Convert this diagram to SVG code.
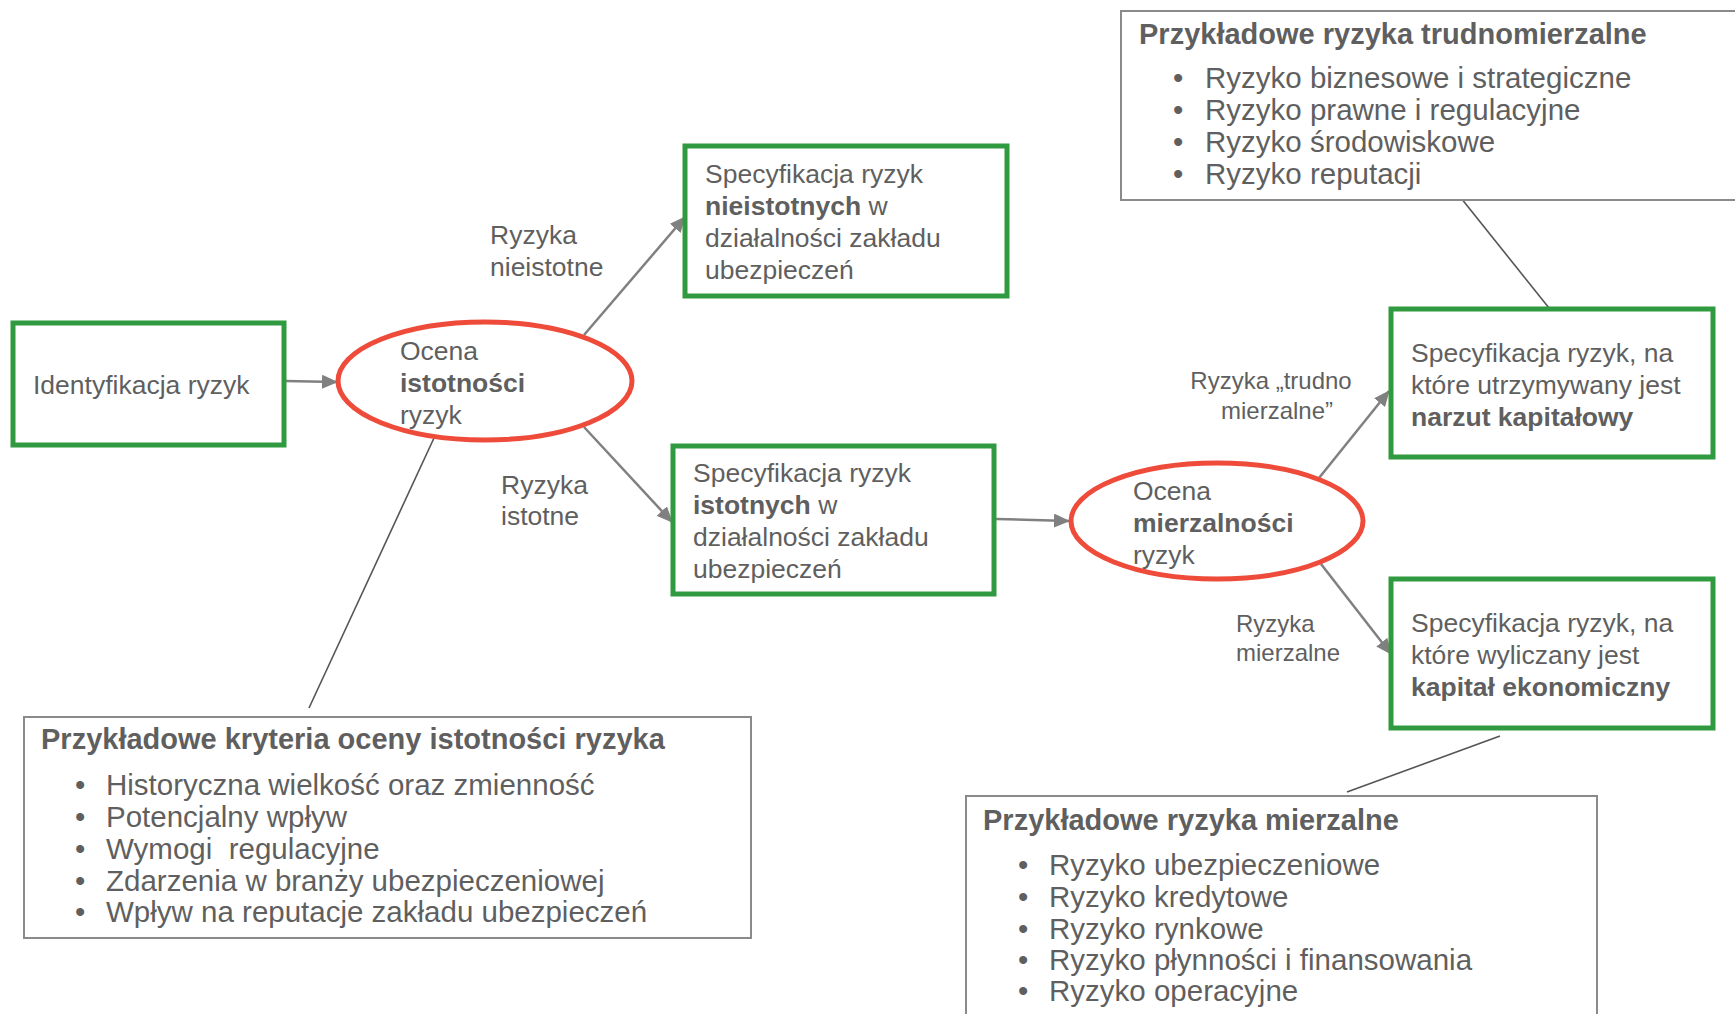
<svg xmlns="http://www.w3.org/2000/svg" width="1735" height="1014" viewBox="0 0 1735 1014">
<defs>
<style>
text{font-family:"Liberation Sans",Arial,sans-serif;fill:#5f5f5f;white-space:pre;}
.t{font-size:26.5px;}
.b{font-weight:bold;}
.lbl{font-size:24px;}
.bl{font-size:29.5px;}
.ttl{font-size:29px;font-weight:bold;}
.g{fill:#fff;stroke:#2f9a3f;stroke-width:5;}
.e{fill:#fff;stroke:#ee4b3b;stroke-width:5;}
.gr{fill:#fff;stroke:#8a8a8a;stroke-width:2;}
.arr{stroke:#808080;stroke-width:2.5;fill:none;marker-end:url(#ah);}
.ln{stroke:#555;stroke-width:1.6;fill:none;}
</style>
<marker id="ah" markerUnits="userSpaceOnUse" markerWidth="16" markerHeight="14" refX="15" refY="7" orient="auto">
<path d="M0,0 L16,7 L0,14 Z" fill="#808080"/>
</marker>
</defs>
<rect width="1735" height="1014" fill="#fff"/>

<g id="connectors">
<line class="arr" x1="285" y1="381" x2="337" y2="382"/>
<line class="arr" x1="584" y1="335" x2="685" y2="217"/>
<line class="arr" x1="584" y1="427" x2="672" y2="522"/>
<line class="arr" x1="996" y1="519" x2="1069" y2="521"/>
<line class="arr" x1="1319" y1="478" x2="1389" y2="391"/>
<line class="arr" x1="1321" y1="564" x2="1391" y2="654"/>
<line class="ln" x1="434" y1="438" x2="309" y2="708"/>
<line class="ln" x1="1461" y1="198" x2="1549" y2="308"/>
<line class="ln" x1="1500" y1="736" x2="1347" y2="792"/>
</g>

<g id="labels">
<text class="t" x="490" y="244">Ryzyka</text>
<text class="t" x="490" y="276">nieistotne</text>
<text class="t" x="501" y="494">Ryzyka</text>
<text class="t" x="501" y="525">istotne</text>
<text class="lbl" x="1271" y="389" text-anchor="middle">Ryzyka „trudno</text>
<text class="lbl" x="1277" y="419" text-anchor="middle">mierzalne”</text>
<text class="lbl" x="1236" y="632">Ryzyka</text>
<text class="lbl" x="1236" y="661">mierzalne</text>
</g>

<g id="identyfikacja">
<rect class="g" x="13" y="323" width="271" height="122"/>
<text class="t" x="33" y="394">Identyfikacja ryzyk</text>
</g>

<g id="ocena-istotnosci">
<ellipse class="e" cx="485" cy="381" rx="147" ry="59"/>
<text class="t" x="400" y="360">Ocena</text>
<text class="t b" x="400" y="392">istotności</text>
<text class="t" x="400" y="424">ryzyk</text>
</g>

<g id="nieistotne">
<rect class="g" x="685" y="146" width="322" height="150"/>
<text class="t" x="705" y="183">Specyfikacja ryzyk</text>
<text class="t" x="705" y="215"><tspan class="b">nieistotnych</tspan> w</text>
<text class="t" x="705" y="247">działalności zakładu</text>
<text class="t" x="705" y="279">ubezpieczeń</text>
</g>

<g id="istotne">
<rect class="g" x="673" y="446" width="321" height="148"/>
<text class="t" x="693" y="482">Specyfikacja ryzyk</text>
<text class="t" x="693" y="514"><tspan class="b">istotnych</tspan> w</text>
<text class="t" x="693" y="546">działalności zakładu</text>
<text class="t" x="693" y="578">ubezpieczeń</text>
</g>

<g id="ocena-mierzalnosci">
<ellipse class="e" cx="1217" cy="521" rx="146" ry="58"/>
<text class="t" x="1133" y="500">Ocena</text>
<text class="t b" x="1133" y="532">mierzalności</text>
<text class="t" x="1133" y="564">ryzyk</text>
</g>

<g id="narzut">
<rect class="g" x="1391" y="309" width="322" height="148"/>
<text class="t" x="1411" y="362">Specyfikacja ryzyk, na</text>
<text class="t" x="1411" y="394">które utrzymywany jest</text>
<text class="t b" x="1411" y="426">narzut kapitałowy</text>
</g>

<g id="kapital">
<rect class="g" x="1391" y="579" width="322" height="149"/>
<text class="t" x="1411" y="632">Specyfikacja ryzyk, na</text>
<text class="t" x="1411" y="664">które wyliczany jest</text>
<text class="t b" x="1411" y="696">kapitał ekonomiczny</text>
</g>

<g id="trudnomierzalne">
<rect class="gr" x="1121" y="11" width="640" height="189"/>
<text class="ttl" x="1139" y="44">Przykładowe ryzyka trudnomierzalne</text>
<text class="bl" x="1173" y="88">•</text><text class="bl" x="1205" y="88">Ryzyko biznesowe i strategiczne</text>
<text class="bl" x="1173" y="120">•</text><text class="bl" x="1205" y="120">Ryzyko prawne i regulacyjne</text>
<text class="bl" x="1173" y="152">•</text><text class="bl" x="1205" y="152">Ryzyko środowiskowe</text>
<text class="bl" x="1173" y="184">•</text><text class="bl" x="1205" y="184">Ryzyko reputacji</text>
</g>

<g id="kryteria">
<rect class="gr" x="24" y="717" width="727" height="221"/>
<text class="ttl" x="41" y="749">Przykładowe kryteria oceny istotności ryzyka</text>
<text class="bl" x="75" y="795">•</text><text class="bl" x="106" y="795">Historyczna wielkość oraz zmienność</text>
<text class="bl" x="75" y="827">•</text><text class="bl" x="106" y="827">Potencjalny wpływ</text>
<text class="bl" x="75" y="859">•</text><text class="bl" x="106" y="859">Wymogi  regulacyjne</text>
<text class="bl" x="75" y="891">•</text><text class="bl" x="106" y="891">Zdarzenia w branży ubezpieczeniowej</text>
<text class="bl" x="75" y="922">•</text><text class="bl" x="106" y="922">Wpływ na reputacje zakładu ubezpieczeń</text>
</g>

<g id="mierzalne">
<rect class="gr" x="966" y="796" width="631" height="260"/>
<text class="ttl" x="983" y="830">Przykładowe ryzyka mierzalne</text>
<text class="bl" x="1018" y="875">•</text><text class="bl" x="1049" y="875">Ryzyko ubezpieczeniowe</text>
<text class="bl" x="1018" y="907">•</text><text class="bl" x="1049" y="907">Ryzyko kredytowe</text>
<text class="bl" x="1018" y="939">•</text><text class="bl" x="1049" y="939">Ryzyko rynkowe</text>
<text class="bl" x="1018" y="970">•</text><text class="bl" x="1049" y="970">Ryzyko płynności i finansowania</text>
<text class="bl" x="1018" y="1001">•</text><text class="bl" x="1049" y="1001">Ryzyko operacyjne</text>
</g>
</svg>
